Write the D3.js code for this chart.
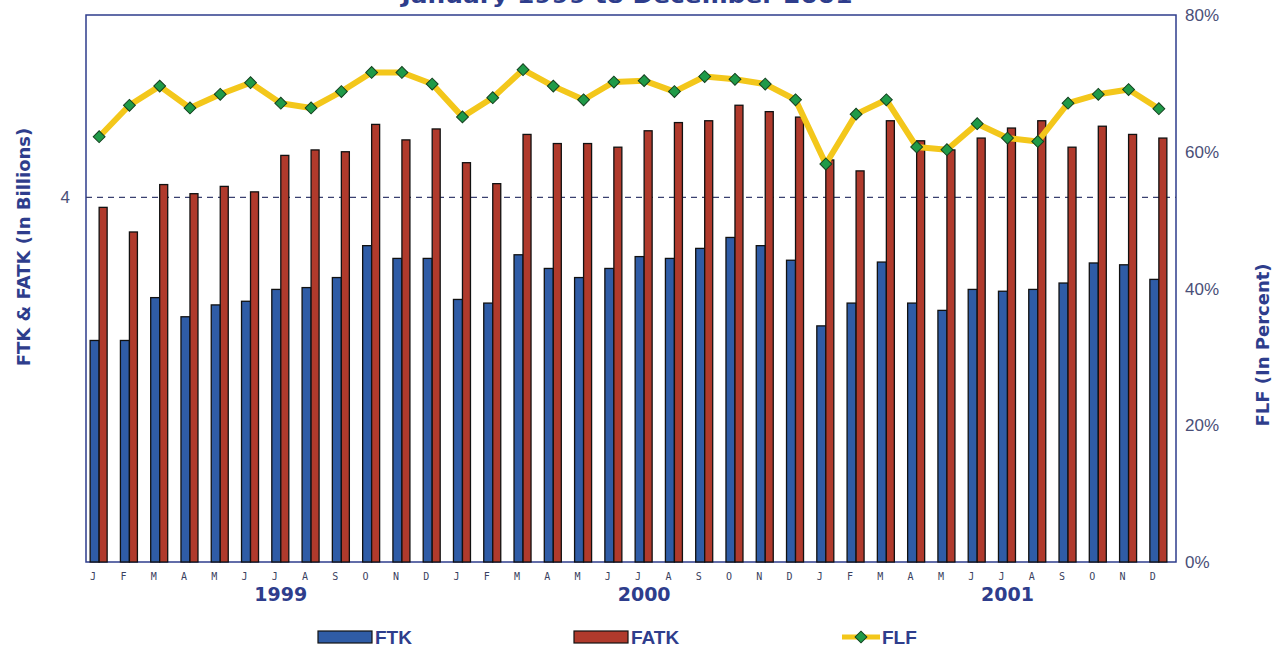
<!DOCTYPE html>
<html>
<head>
<meta charset="utf-8">
<script src="https://cdn.jsdelivr.net/npm/d3@7"></script>
<style>
  html, body { margin: 0; padding: 0; background: #fff; }
  svg { display: block; }
</style>
</head>
<body>
<svg id="chart" width="1284" height="651"></svg>
<script>
// Monthly freight traffic, January 1999 – December 2001
const monthLabels = ["J","F","M","A","M","J","J","A","S","O","N","D"];
const years = ["1999","2000","2001"];
const ftk = [2.43, 2.43, 2.90, 2.69, 2.82, 2.86, 2.99, 3.01, 3.12, 3.47, 3.33, 3.33,
             2.88, 2.84, 3.37, 3.22, 3.12, 3.22, 3.35, 3.33, 3.44, 3.56, 3.47, 3.31,
             2.59, 2.84, 3.29, 2.84, 2.76, 2.99, 2.97, 2.99, 3.06, 3.28, 3.26, 3.10];
const fatk = [3.89, 3.62, 4.14, 4.04, 4.12, 4.06, 4.46, 4.52, 4.50, 4.80, 4.63, 4.75,
              4.38, 4.15, 4.69, 4.59, 4.59, 4.55, 4.73, 4.82, 4.84, 5.01, 4.94, 4.88,
              4.41, 4.29, 4.84, 4.62, 4.52, 4.65, 4.76, 4.84, 4.55, 4.78, 4.69, 4.65];
const flf = [62.2, 66.8, 69.6, 66.4, 68.4, 70.1, 67.1, 66.4, 68.8, 71.6, 71.6, 69.9,
             65.1, 67.9, 72.0, 69.6, 67.6, 70.2, 70.4, 68.8, 71.0, 70.6, 69.9, 67.6,
             58.2, 65.5, 67.6, 60.7, 60.3, 64.1, 62.0, 61.5, 67.1, 68.4, 69.1, 66.3];
const leftTicks = [4];
const rightTicks = [0, 20, 40, 60, 80];
const seriesNames = ["FTK", "FATK", "FLF"];

const months = d3.range(36);
const svg = d3.select("#chart");

const frame = { left: 86, right: 1176, top: 15, bottom: 562 };
const navy = "#2e3d8c";
const barBlue = "#2f5ca6";
const barRed = "#b03a2c";
const lineYellow = "#f3c71b";
const diamondGreen = "#1f9a48";

const x = d3.scaleBand().domain(months).range([84, 1174]).paddingInner(0).paddingOuter(0);
const groupW = 18;
const xSub = d3.scaleBand().domain(["ftk", "fatk"]).range([-groupW / 2, groupW / 2]);
const yL = d3.scaleLinear().domain([0, 6]).range([frame.bottom, frame.top]);
const yR = d3.scaleLinear().domain([0, 80]).range([frame.bottom, frame.top]);
const cx = i => x(i) + x.bandwidth() / 2;

// Title (runs off the top edge of the page)
svg.append("text")
  .attr("x", 627).attr("y", 3)
  .attr("text-anchor", "middle")
  .attr("font-family", "DejaVu Sans, Verdana, sans-serif")
  .attr("font-weight", "bold")
  .attr("font-size", 22)
  .attr("textLength", 451)
  .attr("lengthAdjust", "spacingAndGlyphs")
  .attr("fill", navy)
  .text("January 1999 to December 2001");

// Plot frame
svg.append("rect")
  .attr("x", frame.left).attr("y", frame.top)
  .attr("width", frame.right - frame.left).attr("height", frame.bottom - frame.top)
  .attr("fill", "#fff").attr("stroke", navy).attr("stroke-width", 1.5);

// Left axis reference line at 4
svg.append("g").selectAll("line").data(leftTicks).join("line")
  .attr("x1", frame.left).attr("x2", frame.right)
  .attr("y1", d => yL(d)).attr("y2", d => yL(d))
  .attr("stroke", "#3a4070").attr("stroke-width", 1.2)
  .attr("stroke-dasharray", "6,5");

svg.append("g").selectAll("text").data(leftTicks).join("text")
  .attr("x", 70).attr("y", d => yL(d) + 6)
  .attr("text-anchor", "end")
  .attr("font-family", "Liberation Sans, Arial, sans-serif")
  .attr("font-size", 17)
  .attr("fill", "#4a4f78")
  .text(d => d);

// Bars
const bars = svg.append("g");
bars.selectAll("rect.ftk").data(months).join("rect")
  .attr("class", "ftk")
  .attr("x", i => cx(i) + xSub("ftk"))
  .attr("width", xSub.bandwidth())
  .attr("y", i => yL(ftk[i]))
  .attr("height", i => yL(0) - yL(ftk[i]))
  .attr("fill", barBlue).attr("stroke", "#111").attr("stroke-width", 1.3);
bars.selectAll("rect.fatk").data(months).join("rect")
  .attr("class", "fatk")
  .attr("x", i => cx(i) + xSub("fatk"))
  .attr("width", xSub.bandwidth() - 1)
  .attr("y", i => yL(fatk[i]))
  .attr("height", i => yL(0) - yL(fatk[i]))
  .attr("fill", barRed).attr("stroke", "#111").attr("stroke-width", 1.3);

// Load factor line
const line = d3.line().x(i => cx(i)).y(i => yR(flf[i])).curve(d3.curveLinear);
svg.append("path")
  .datum(months)
  .attr("d", line)
  .attr("fill", "none")
  .attr("stroke", lineYellow)
  .attr("stroke-width", 6)
  .attr("stroke-linejoin", "round");

const diamond = d3.symbol().type(d3.symbolSquare).size(70);
svg.append("g").selectAll("path").data(months).join("path")
  .attr("d", diamond)
  .attr("transform", i => `translate(${cx(i)},${yR(flf[i])}) rotate(45)`)
  .attr("fill", diamondGreen).attr("stroke", "#14401f").attr("stroke-width", 1);

// Right axis labels
svg.append("g").selectAll("text").data(rightTicks).join("text")
  .attr("x", 1185).attr("y", d => yR(d) + 6)
  .attr("font-family", "Liberation Sans, Arial, sans-serif")
  .attr("font-size", 17)
  .attr("fill", "#4a4f78")
  .text(d => d + "%");

// Month labels
svg.append("g").selectAll("text").data(months).join("text")
  .attr("x", i => cx(i) - 6).attr("y", 580)
  .attr("text-anchor", "middle")
  .attr("font-family", "DejaVu Sans Mono, monospace")
  .attr("font-size", 10)
  .attr("fill", "#3a3f60")
  .text(i => monthLabels[i % 12]);

// Year labels, centred under July
svg.append("g").selectAll("text").data(years).join("text")
  .attr("x", (d, k) => cx(k * 12 + 6)).attr("y", 601)
  .attr("text-anchor", "middle")
  .attr("font-family", "DejaVu Sans, Verdana, sans-serif")
  .attr("font-weight", "bold")
  .attr("font-size", 19)
  .attr("fill", navy)
  .text(d => d);

// Axis titles
svg.append("text")
  .attr("transform", "translate(30,247) rotate(-90)")
  .attr("text-anchor", "middle")
  .attr("font-family", "DejaVu Sans, Verdana, sans-serif")
  .attr("font-weight", "bold")
  .attr("font-size", 18)
  .attr("fill", navy)
  .text("FTK & FATK (In Billions)");

svg.append("text")
  .attr("transform", "translate(1269,345) rotate(-90)")
  .attr("text-anchor", "middle")
  .attr("font-family", "DejaVu Sans, Verdana, sans-serif")
  .attr("font-weight", "bold")
  .attr("font-size", 18)
  .attr("fill", navy)
  .text("FLF (In Percent)");

// Legend
const legend = svg.append("g");
const legendItems = [
  { name: seriesNames[0], x: 318, kind: "bar", color: barBlue },
  { name: seriesNames[1], x: 574, kind: "bar", color: barRed },
  { name: seriesNames[2], x: 842, kind: "line", color: lineYellow }
];
legendItems.forEach(item => {
  if (item.kind === "bar") {
    legend.append("rect")
      .attr("x", item.x).attr("y", 631).attr("width", 54).attr("height", 12)
      .attr("fill", item.color).attr("stroke", "#111").attr("stroke-width", 1.2);
  } else {
    legend.append("line")
      .attr("x1", item.x).attr("x2", item.x + 38).attr("y1", 637).attr("y2", 637)
      .attr("stroke", item.color).attr("stroke-width", 5);
    legend.append("path")
      .attr("d", diamond)
      .attr("transform", `translate(${item.x + 19},637) rotate(45)`)
      .attr("fill", diamondGreen).attr("stroke", "#14401f").attr("stroke-width", 1);
  }
  legend.append("text")
    .attr("x", item.x + (item.kind === "bar" ? 57 : 40)).attr("y", 644)
    .attr("font-family", "Liberation Sans, Arial, sans-serif")
    .attr("font-weight", "bold")
    .attr("font-size", 19)
    .attr("fill", navy)
    .text(item.name);
});
</script>
</body>
</html>
